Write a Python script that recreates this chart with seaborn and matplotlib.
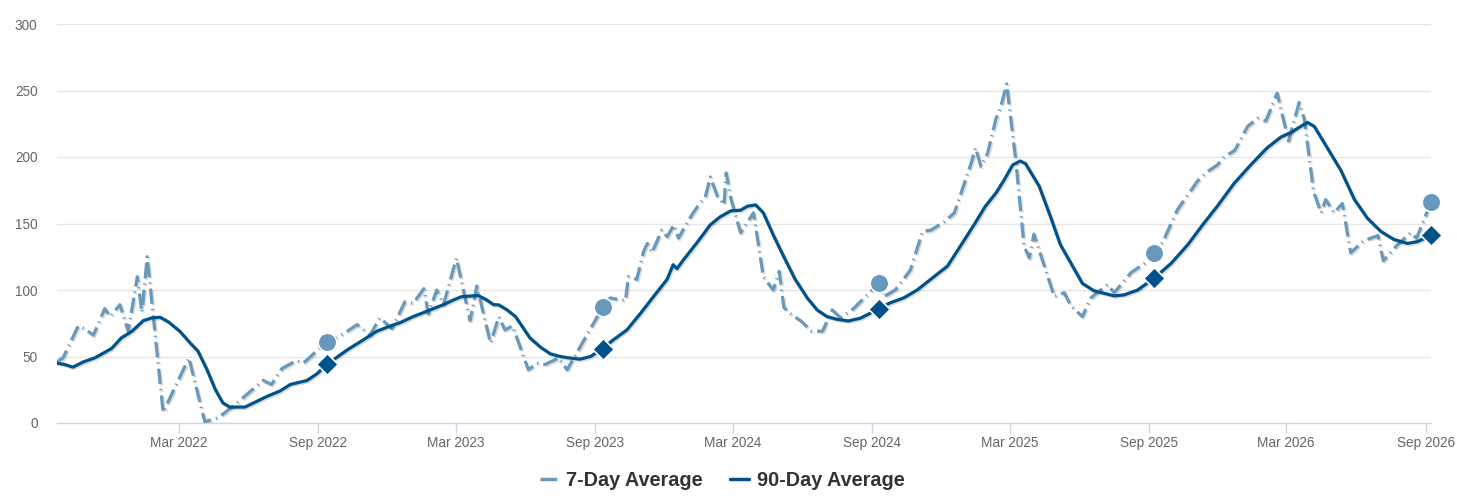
import pandas as pd
import matplotlib
matplotlib.use("Agg")
import matplotlib.pyplot as plt
import matplotlib.dates as mdates
import matplotlib.patheffects as pe
from matplotlib.lines import Line2D
import seaborn as sns

# --- Data ---
seven_day_dates = [
    "2021-09-21", "2021-09-29", "2021-10-19", "2021-10-30", "2021-11-08", "2021-11-23",
    "2021-11-30", "2021-12-13", "2021-12-24", "2022-01-05", "2022-01-11", "2022-01-18",
    "2022-02-08", "2022-03-14", "2022-04-04", "2022-04-22", "2022-05-12", "2022-06-20",
    "2022-07-01", "2022-07-15", "2022-08-03", "2022-08-12", "2022-09-12", "2022-10-04",
    "2022-10-22", "2022-11-08", "2022-11-21", "2022-12-07", "2022-12-24", "2023-01-04",
    "2023-01-18", "2023-01-24", "2023-02-04", "2023-02-13", "2023-03-02", "2023-03-20",
    "2023-03-29", "2023-04-16", "2023-04-27", "2023-05-05", "2023-05-15", "2023-06-05",
    "2023-06-16", "2023-06-27", "2023-07-15", "2023-07-26", "2023-09-11", "2023-09-21",
    "2023-10-11", "2023-10-15", "2023-10-26", "2023-11-04", "2023-11-09", "2023-11-15",
    "2023-11-28", "2023-12-05", "2023-12-14", "2023-12-20", "2024-01-05", "2024-01-18",
    "2024-01-24", "2024-01-31", "2024-02-09", "2024-02-18", "2024-02-21", "2024-02-27",
    "2024-03-11", "2024-03-28", "2024-04-10", "2024-04-23", "2024-05-01", "2024-05-07",
    "2024-05-18", "2024-05-29", "2024-06-13", "2024-06-27", "2024-07-10", "2024-07-21",
    "2024-08-07", "2024-08-26", "2024-09-09", "2024-09-16", "2024-10-01", "2024-10-21",
    "2024-11-06", "2024-11-17", "2024-12-04", "2024-12-18", "2024-12-31", "2025-01-09",
    "2025-01-15", "2025-01-22", "2025-01-31", "2025-02-11", "2025-02-17", "2025-02-25",
    "2025-03-09", "2025-03-20", "2025-03-27", "2025-04-02", "2025-04-29", "2025-05-12",
    "2025-05-21", "2025-06-05", "2025-06-16", "2025-07-08", "2025-07-17", "2025-08-08",
    "2025-08-26", "2025-09-08", "2025-09-19", "2025-10-08", "2025-11-04", "2025-11-17",
    "2025-11-30", "2025-12-09", "2025-12-23", "2026-01-09", "2026-01-22", "2026-02-02",
    "2026-02-17", "2026-03-04", "2026-03-18", "2026-03-25", "2026-04-06", "2026-04-16",
    "2026-04-22", "2026-05-03", "2026-05-14", "2026-05-25", "2026-06-11", "2026-06-30",
    "2026-07-07", "2026-07-24", "2026-08-12", "2026-08-20", "2026-09-08",
]
seven_day_vals = [
    46, 49, 73, 70, 66, 86,
    80, 89, 69, 110, 83, 125,
    8, 49, 1, 4, 13, 32,
    29, 41, 47, 45, 61, 67,
    74, 66, 79, 71, 91, 90,
    101, 82, 100, 89, 124, 77,
    103, 60, 80, 70, 73, 40,
    45, 44, 49, 40, 87, 94,
    92, 110, 108, 129, 135, 128,
    145, 140, 149, 139, 155, 166,
    169, 185, 171, 164, 188, 169,
    143, 158, 110, 100, 114, 87,
    81, 77, 69, 69, 85, 79,
    86, 97, 105, 95, 100, 115,
    144, 145, 151, 158, 180, 195,
    207, 193, 203, 229, 237, 255,
    198, 133, 124, 142, 95, 98,
    88, 80, 94, 104, 98, 113,
    120, 128, 136, 160, 182, 189,
    194, 200, 205, 223, 229, 227,
    248, 212, 241, 228, 174, 158,
    168, 158, 165, 128, 137, 141,
    122, 133, 143, 139, 166,
]

ninety_day_dates = [
    "2021-09-21", "2021-10-01", "2021-10-12", "2021-10-26", "2021-11-10", "2021-12-02",
    "2021-12-15", "2021-12-29", "2022-01-13", "2022-01-24", "2022-02-04", "2022-02-15",
    "2022-03-02", "2022-03-16", "2022-03-26", "2022-04-07", "2022-04-18", "2022-04-28",
    "2022-05-07", "2022-05-27", "2022-06-07", "2022-06-25", "2022-07-12", "2022-07-26",
    "2022-08-17", "2022-08-30", "2022-09-12", "2022-10-09", "2022-10-26", "2022-11-17",
    "2022-12-05", "2022-12-18", "2023-01-04", "2023-01-22", "2023-02-13", "2023-02-26",
    "2023-03-09", "2023-03-23", "2023-03-31", "2023-04-11", "2023-04-20", "2023-04-27",
    "2023-05-08", "2023-05-19", "2023-05-25", "2023-06-07", "2023-06-21", "2023-07-04",
    "2023-07-17", "2023-07-28", "2023-08-12", "2023-08-26", "2023-09-11", "2023-09-25",
    "2023-10-13", "2023-10-31", "2023-11-17", "2023-12-05", "2023-12-13", "2023-12-18",
    "2023-12-27", "2024-01-14", "2024-01-31", "2024-02-13", "2024-02-27", "2024-03-11",
    "2024-03-20", "2024-03-31", "2024-04-10", "2024-04-23", "2024-05-07", "2024-05-22",
    "2024-06-07", "2024-06-20", "2024-07-03", "2024-07-16", "2024-07-31", "2024-08-16",
    "2024-08-29", "2024-09-09", "2024-09-25", "2024-10-12", "2024-10-30", "2024-11-19",
    "2024-12-09", "2024-12-26", "2025-01-13", "2025-01-28", "2025-02-11", "2025-02-21",
    "2025-03-05", "2025-03-15", "2025-03-22", "2025-04-09", "2025-04-24", "2025-05-07",
    "2025-05-23", "2025-06-05", "2025-06-20", "2025-07-03", "2025-07-17", "2025-07-30",
    "2025-08-17", "2025-09-08", "2025-09-30", "2025-10-22", "2025-11-12", "2025-11-30",
    "2025-12-22", "2026-01-13", "2026-02-04", "2026-02-22", "2026-03-09", "2026-03-20",
    "2026-03-29", "2026-04-07", "2026-04-24", "2026-05-12", "2026-05-30", "2026-06-16",
    "2026-07-04", "2026-07-21", "2026-08-08", "2026-08-21", "2026-09-08",
]
ninety_day_vals = [
    45, 44, 42, 46, 49, 56,
    64, 69, 77, 79, 79.5, 76,
    69, 60, 54, 40, 25, 15,
    12, 12, 15, 20, 24, 29,
    32, 37, 44, 55, 61, 69,
    73, 75.5, 80, 84, 89, 92.5,
    95, 95.6, 95.8, 92.5, 89, 88.8,
    85, 80, 75, 64, 57, 52,
    50, 49, 48, 50, 56, 62.5,
    70, 82.5, 95, 108, 119, 116,
    123, 136, 149, 155, 159.5, 160,
    163, 164, 158, 141.5, 125, 108,
    94, 85, 80, 78, 76.7, 78.8,
    82.5, 86, 90.5, 94, 100, 109,
    118, 133, 149, 163, 173, 182,
    194, 197, 195, 178, 155, 134,
    118, 105, 99.5, 97.6, 95.6, 96.3,
    100, 109, 120, 134, 150, 163,
    180, 194, 207, 215, 219, 223,
    226, 223, 207, 190, 168, 154,
    144, 138, 135, 136.4, 141,
]

marker_dates = ["2022-09-12", "2023-09-11", "2024-09-09", "2025-09-08", "2026-09-08"]
marker_seven_day = [61, 87, 105, 128, 166]
marker_ninety_day = [44, 56, 86, 109, 141]

# Build frames
seven = pd.DataFrame({"date": pd.to_datetime(seven_day_dates), "value": seven_day_vals})
ninety = pd.DataFrame({"date": pd.to_datetime(ninety_day_dates), "value": ninety_day_vals})
marks = pd.DataFrame({
    "date": pd.to_datetime(marker_dates),
    "seven": marker_seven_day,
    "ninety": marker_ninety_day,
})

# Colors and dash style
light_blue = "#6898bb"
dark_blue = "#00538a"
long_dash_dot = [4.8, 1.6, 0.4, 1.6]

sns.set_theme(style="white")
plt.rcParams["font.family"] = ["Liberation Sans", "DejaVu Sans"]

fig = plt.figure(figsize=(14.57, 5.04), dpi=100)
ax = fig.add_axes([57 / 1457, 1 - 423 / 504, (1431 - 57) / 1457, (423 - 24) / 504])

shadow = [pe.SimpleLineShadow(offset=(1, -1), alpha=0.15, shadow_color="black"), pe.Normal()]

sns.lineplot(data=seven, x="date", y="value", ax=ax, color=light_blue, linewidth=2.3,
             estimator=None, sort=False, zorder=3)
ax.lines[-1].set_dashes(long_dash_dot)
ax.lines[-1].set_path_effects(shadow)

sns.lineplot(data=ninety, x="date", y="value", ax=ax, color=dark_blue, linewidth=2.3,
             estimator=None, sort=False, zorder=4)
ax.lines[-1].set_path_effects(shadow)

sns.scatterplot(data=marks, x="date", y="seven", ax=ax, color=light_blue, s=180,
                marker="o", edgecolor="white", linewidth=1.2, zorder=5, clip_on=False)
sns.scatterplot(data=marks, x="date", y="ninety", ax=ax, color=dark_blue, s=120,
                marker="D", edgecolor="white", linewidth=1.2, zorder=6, clip_on=False)

# Axes
ax.set_ylim(0, 300)
ax.set_yticks(range(0, 301, 50))
ax.set_xlim(seven["date"].min(), seven["date"].max())
ax.xaxis.set_major_locator(mdates.MonthLocator(bymonth=[3, 9]))
ax.xaxis.set_major_formatter(mdates.DateFormatter("%b %Y"))
ax.set_xlabel("")
ax.set_ylabel("")

ax.grid(axis="y", color="#e6e6e6", linewidth=1)
ax.grid(axis="x", visible=False)
ax.set_axisbelow(True)
for side in ["top", "right", "left"]:
    ax.spines[side].set_visible(False)
ax.spines["bottom"].set_color("#ccd6eb")
ax.spines["bottom"].set_linewidth(1)

ax.tick_params(axis="x", length=7, width=1, color="#ccd6eb", labelcolor="#666666",
               labelsize=9.8, pad=2.5, direction="out", bottom=True)
ax.tick_params(axis="y", length=0, labelcolor="#666666", labelsize=9.8, pad=14)

# Legend
handles = [
    Line2D([0], [0], color=light_blue, linewidth=2.5, dashes=long_dash_dot),
    Line2D([0], [0], color=dark_blue, linewidth=2.5),
]
fig.legend(handles, ["7-Day Average", "90-Day Average"], loc="center",
           bbox_to_anchor=(722 / 1457, 1 - 480 / 504), ncol=2, frameon=False,
           handlelength=0.95, handletextpad=0.4, columnspacing=1.35,
           prop={"weight": "bold", "size": 14.3}, labelcolor="#333333")

fig.savefig("out.png", dpi=100)
